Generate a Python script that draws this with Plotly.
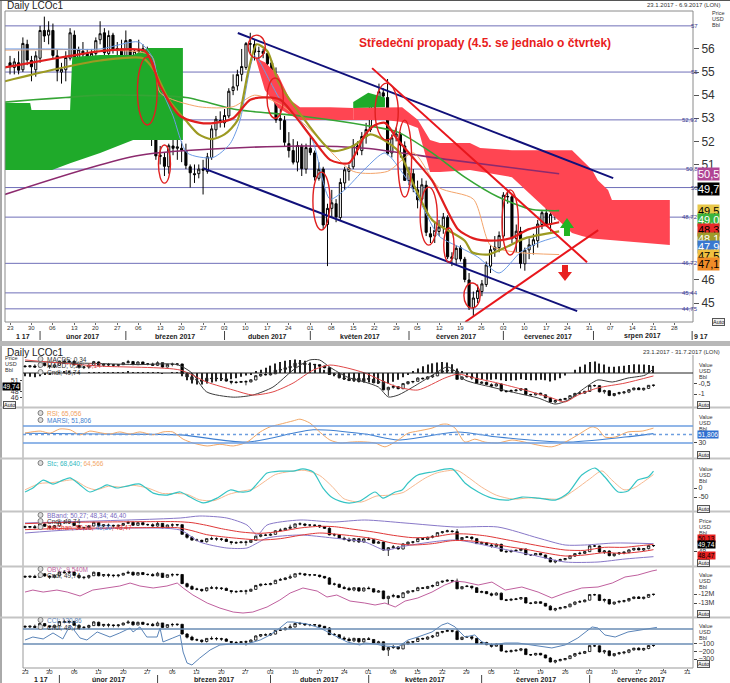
import plotly.graph_objects as go

W, H = 730, 683
FONT = "Liberation Sans, Arial, sans-serif"

# ---------------- price data: LCOc1 daily, trading-day index 0 = 23.1.2017 ----------------
open_ = [55.4,55.2,55.4,55.1,56.2, 55.5,55.1,55.6,56.8,56.6, 56.8,55.7,55.0,55.1,55.6,
         56.6,55.6,55.9,55.8,55.6, 55.8,56.4,56.7,55.8,56.6, 56.0,56.0,55.6,56.4,55.1,
         55.9,55.9,56.0,53.1,52.2, 51.4,51.3,50.9,51.8,51.7, 51.7,51.6,50.9,50.6,50.6,
         50.8,50.7,51.3,52.5,52.9, 52.8,53.1,54.2,54.4,54.9, 55.2,56.2,56.2,55.9,55.9,
         55.8,55.4,54.9,52.9,52.9, 51.9,51.6,51.1,51.8,50.8, 51.7,51.5,50.4,50.8,48.4,
         49.1,49.3,48.7,50.2,50.7, 50.9,51.8,51.6,52.2,52.5, 53.6,53.9,54.1,53.9,51.5,
         52.2,52.3,51.8,50.3,50.6, 49.9,49.5,50.1,48.0,47.9, 48.1,48.3,48.7,47.0,46.9,
         47.4,46.9,46.0,44.8,45.2, 45.5,45.8,46.6,47.3,47.4, 47.9,49.6,49.6,47.8,48.1,
         46.7,47.3,47.5,47.7,48.4, 48.9,48.4,48.8,49.7]
high_ = [55.7,55.6,55.9,56.5,56.4, 55.7,55.9,57.0,57.4,57.2, 57.1,56.0,55.4,55.9,56.9,
         56.8,56.1,56.3,56.0,56.0, 56.5,57.2,56.9,56.8,56.7, 56.3,56.4,56.8,56.4,56.0,
         56.4,56.2,56.1,53.4,52.6, 51.8,51.5,51.9,52.4,52.2, 52.0,51.9,51.0,51.0,51.0,
         51.2,51.5,52.7,53.1,53.3, 53.4,54.3,54.9,55.1,56.0, 56.3,56.7,56.4,56.1,56.0,
         55.9,55.5,55.2,53.4,53.1, 52.4,52.1,52.0,51.9,51.9, 52.2,51.6,51.1,50.9,49.3,
         49.9,49.5,50.4,50.9,51.0, 52.1,52.0,52.4,52.8,53.7, 54.0,54.5,54.3,54.7,52.3,
         52.6,52.4,52.0,50.9,50.8, 50.3,50.4,50.3,48.3,48.5, 48.6,48.9,48.8,47.2,47.5,
         47.5,47.0,46.3,45.5,45.8, 46.0,46.8,47.5,47.9,48.1, 49.8,49.9,49.7,48.4,48.3,
         47.4,47.8,48.0,48.6,49.0, 49.2,49.0,49.8,49.9]
low_ = [54.9,54.9,54.9,55.0,55.3, 54.6,54.8,55.4,56.3,56.2, 55.6,54.6,54.5,54.6,55.5,
        55.4,55.2,55.1,55.1,55.1, 55.7,56.2,55.6,55.7,55.8, 55.6,55.4,55.4,54.9,55.0,
        55.3,55.5,53.0,51.8,51.2, 51.0,50.5,50.6,51.4,51.2, 51.1,50.8,50.0,50.2,50.4,
        49.7,50.6,51.2,52.2,52.6, 52.6,53.0,54.0,54.2,54.6, 55.1,55.8,55.5,55.4,55.6,
        55.0,54.7,52.8,52.5,51.8, 51.3,51.0,50.7,50.5,50.6, 51.4,50.3,50.3,48.2,46.6,
        48.7,48.5,48.6,49.9,50.3, 50.8,51.4,51.4,51.9,52.4, 53.3,53.7,53.6,51.4,51.3,
        52.0,51.3,50.3,50.1,49.8, 49.1,49.4,47.9,47.6,47.6, 47.9,48.0,46.9,46.6,46.7,
        46.8,45.9,44.7,44.4,45.0, 45.3,45.7,46.3,47.0,47.2, 47.8,49.3,47.6,47.2,46.5,
        46.4,46.9,47.1,47.4,48.2, 48.3,48.1,48.6,49.3]
close_ = [55.23,55.44,55.08,56.24,55.52, 55.23,55.70,56.80,56.56,56.81, 55.72,55.05,55.12,55.63,56.70,
          55.59,55.97,55.75,55.65,55.81, 56.36,56.66,55.84,56.58,55.99, 56.01,55.59,56.36,55.08,55.90,
          55.92,56.01,53.11,52.19,51.37, 51.35,50.92,51.81,51.70,51.76, 51.62,50.96,50.64,50.56,50.80,
          50.75,51.33,52.54,52.96,52.83, 53.12,54.17,54.36,54.89,55.24, 56.23,56.23,55.86,55.89,55.80,
          55.36,54.89,52.93,52.99,51.96, 51.60,51.10,51.82,50.82,51.73, 51.52,50.46,50.79,48.38,49.10,
          49.34,48.73,50.22,50.77,50.84, 51.82,51.65,52.21,52.51,53.61, 53.87,54.15,53.96,51.46,52.15,
          52.32,51.84,50.31,50.63,49.95, 49.47,50.12,48.06,47.86,48.15, 48.29,48.72,47.00,46.92,47.37,
          46.91,46.02,44.82,45.22,45.54, 45.83,46.65,47.31,47.42,47.92, 49.67,49.61,47.79,48.11,46.71,
          47.29,47.52,47.74,48.42,48.91, 48.42,48.84,49.70,49.74]
day_idx = list(range(len(close_)))

# ---------------- axis labels ----------------
week_labels = ["23","30","06","13","20","27","06","13","20","27","03","10","17","24","01","08",
               "15","22","29","05","12","19","26","03","10","17","24","31","07","14","21","28","04"]
week_idx = [5 * k for k in range(len(week_labels))]
month_names = ["1 17","únor 2017","březen 2017","duben 2017","květen 2017","červen 2017",
               "červenec 2017","srpen 2017","9 17"]
month_start = [None, 7, 27, 50, 70, 93, 115, 136, 159]

# ---------------- top panel: ichimoku cloud (index, upper, lower) ----------------
green1_x = [-1.2, 4.7, 5.0, 9.8, 14.0, 14.5, 21, 28.7, 32.2, 40.3]
green1_hi = [53.66, 53.66, 53.36, 53.36, 53.36, 55.65, 55.74, 55.74, 56.04, 56.04]
green1_lo = [50.76, 50.76, 50.76, 50.76, 51.05, 51.1, 51.5, 52.06, 52.06, 52.06]
red1_x = [57.3, 59.4, 62.5, 65.3, 67.6, 74.6, 80.0]
red1_hi = [55.61, 55.43, 54.87, 53.79, 53.48, 53.48, 53.44]
red1_lo = [55.55, 54.22, 53.44, 53.14, 52.92, 52.92, 52.92]
green2_x = [80.0, 83.5, 87.4]
green2_hi = [53.7, 54.1, 53.9]
green2_lo = [53.44, 53.45, 53.48]
red2_x = [80.0, 87.4, 91.4, 95.1, 97.9, 100.2, 107.2, 109.6, 117, 131, 133.3, 135.7, 137, 139.4, 140.3, 153.8]
red2_hi = [53.44, 53.48, 53.48, 52.92, 52.06, 51.93, 51.93, 51.71, 51.62, 51.62, 51.19, 50.76, 50.32, 49.89, 49.46, 49.46]
red2_lo = [52.92, 52.92, 52.84, 52.58, 50.67, 50.67, 50.76, 50.67, 50.45, 48.03, 47.9, 47.8, 47.77, 47.75, 47.73, 47.51]

# ---------------- top panel: indicator lines (index, price) ----------------
red_ma_x = [-1.2, 4.7, 14, 21, 31.5, 35, 39.6, 44.3, 47.8, 52, 56, 60, 63, 66, 70.6, 74.6, 79, 82.8, 85, 87.4, 90.4, 94.4, 98.4, 104.4, 108, 112, 116.6, 121, 128]
red_ma_y = [55.2, 55.4, 55.7, 55.9, 55.9, 54.4, 53.1, 52.8, 52.8, 53.0, 53.8, 53.9, 53.8, 53.2, 52.1, 51.2, 51.06, 52.3, 52.7, 52.8, 52.06, 51.2, 50.3, 48.2, 47.8, 47.7, 47.8, 48.2, 48.5]
olive_x = [-1.2, 10, 21, 31, 33.5, 37, 41, 44, 47, 50, 53, 55.5, 57.5, 60, 62.5, 67.6, 75, 80, 84, 90.4, 94.4, 98.4, 106, 107.7, 111.4, 115.4, 120, 128]
olive_y = [54.6, 55.1, 55.5, 55.6, 55.1, 53.8, 52.9, 52.3, 52.1, 52.3, 52.9, 55.0, 56.2, 55.9, 54.6, 53.2, 51.6, 51.8, 52.3, 51.6, 50.0, 48.6, 47.7, 47.2, 47.1, 47.4, 47.8, 48.1]
blue_x = [-1.2, 10, 21, 30, 33, 35, 38, 41.3, 47.3, 51.3, 53.6, 57, 60.6, 63, 67.6, 70.6, 74.6, 78, 82.7, 87.4, 92, 95, 100, 105, 109, 114, 119, 123, 128]
blue_y = [56.0, 56.0, 56.0, 56.3, 55.7, 54.4, 53.1, 51.5, 51.3, 51.9, 52.9, 55.7, 54.6, 53.8, 52.9, 52.0, 49.5, 49.9, 50.8, 51.5, 50.5, 49.6, 47.9, 47.4, 47.0, 46.3, 47.2, 47.6, 47.9]
orange_x = [-1.2, 21, 33, 35, 44, 52, 57, 63, 70, 80, 88, 94, 100, 108, 112, 118, 128]
orange_y = [55.95, 55.95, 55.7, 54.1, 53.5, 53.5, 54.0, 53.6, 52.5, 50.7, 50.7, 51.5, 50.0, 49.5, 47.5, 47.2, 47.1]
green_ma_x = [-1.2, 5.4, 13, 21, 41, 52, 56, 67.6, 82.7, 90.4, 98.4, 106, 113.7, 121.7, 128]
green_ma_y = [53.7, 53.8, 53.9, 54.0, 53.9, 53.4, 53.3, 53.1, 52.7, 52.4, 51.5, 50.45, 49.6, 49.05, 49.0]
purple_x = [-1.2, 30.3, 67.6, 82.8, 102.6, 128]
purple_y = [49.7, 51.4, 51.8, 51.7, 51.2, 50.6]

levels = [57, 55, 52.93, 50.8, 50, 48.72, 46.72, 45.44, 44.75]
level_text = ["57", "55", "52,93", "50,8", "50", "48,72", "46,72", "45,44", "44,75"]

# trend lines (index, price)
chan_up = ([53.1, 140.6], [56.69, 50.41])
chan_lo = ([45.0, 132.2], [50.84, 44.65])
red_dn = ([84.4, 134.5], [55.17, 46.77])
red_upl = ([106.1, 137.1], [44.18, 48.16])

# Wednesday drop ellipses: centre index, top price, bottom price, half width (days)
ell_idx = [32, 36, 57.5, 61.8, 72.6, 87.8, 92, 97.6, 102.3, 107.7, 116.6]
ell_top = [55.65, 51.84, 56.6, 54.74, 50.67, 54.52, 52.92, 50.02, 48.25, 45.87, 49.9]
ell_bot = [52.71, 50.19, 55.6, 53.0, 48.16, 52.06, 49.59, 47.51, 46.77, 44.78, 47.08]
ell_hw = [2.3, 1.4, 2.0, 1.9, 2.0, 2.7, 1.6, 2.0, 1.2, 1.9, 1.9]

box_text = ["50,5", "49,7", "49,5", "49,0", "48,3", "48,1", "47,9", "47,5", "47,1"]
box_bg = ['#b04494', '#000000', '#e8c84a', '#3cb43c', '#e82828', '#a09a28', '#3a78d0', '#f0c040', '#f08c28']
box_fg = ['white', 'white', 'black', 'white', 'black', 'white', 'white', 'black', 'black']

# ---------------- lower panels ----------------
macd_x = [0, 7, 15, 23, 31, 34, 37, 42.4, 46.4, 50.5, 54.6, 58, 60, 62, 65.6, 69.2, 72, 74, 76, 79, 83, 86, 87.6, 89.6, 95, 100, 104.5, 108, 110.6, 114, 116.7, 119.6, 122.8, 126.3, 128]
macd_y = [0.55, 0.5, 0.45, 0.4, 0.4, 0.0, -0.9, -1.15, -1.05, -0.67, 0.14, 0.62, 0.62, 0.29, -0.19, -0.43, -0.67, -1.14, -1.05, -0.67, -0.1, 0.29, 0.1, -0.33, -0.67, -0.95, -1.19, -1.48, -1.29, -0.71, -0.33, -0.43, -0.24, -0.1, 0.2]
sig_x = [0, 15, 31.6, 37, 42.4, 46.4, 50.5, 54.6, 58.7, 62.1, 65.6, 69.2, 73.3, 76, 80, 85.5, 88.2, 91.6, 96.3, 101.8, 107.3, 110, 112.6, 116.7, 122.2, 128]
sig_y = [0.62, 0.33, 0.14, -0.43, -0.81, -1.05, -0.9, -0.48, 0.14, 0.38, 0.24, 0.0, -0.43, -0.67, -0.81, -0.24, -0.05, -0.24, -0.48, -0.81, -1.19, -1.38, -1.05, -0.71, -0.48, -0.14]
macd_hist = [-0.15,-0.18,-0.2,-0.15,-0.1,-0.05,0.0,0.03,0.05,0.05,
             0.04,0.02,0.0,0.02,0.04,0.03,0.02,0.02,0.01,0.02,
             0.03,0.05,0.03,0.04,0.02,0.02,0.01,0.02,-0.01,0.0,
             0.01,0.01,-0.15,-0.35,-0.5,-0.55,-0.55,-0.5,-0.45,-0.4,
             -0.38,-0.35,-0.3,-0.25,-0.18,-0.12,-0.05,0.05,0.15,0.25,
             0.35,0.45,0.52,0.58,0.62,0.64,0.62,0.58,0.5,0.4,
             0.28,0.15,-0.05,-0.15,-0.25,-0.32,-0.36,-0.4,-0.42,-0.45,
             -0.45,-0.48,-0.52,-0.55,-0.5,-0.42,-0.32,-0.2,-0.05,0.1,
             0.22,0.32,0.4,0.46,0.5,0.52,0.5,0.42,0.2,0.05,
             -0.08,-0.15,-0.25,-0.3,-0.32,-0.32,-0.3,-0.35,-0.38,-0.36,
             -0.34,-0.3,-0.33,-0.35,-0.34,-0.32,-0.35,-0.4,-0.35,-0.25,
             -0.12,0.0,0.15,0.3,0.4,0.52,0.55,0.45,0.4,0.3,
             0.3,0.32,0.35,0.38,0.42,0.4,0.4,0.38,0.34]

rsi_x = [0, 3.1, 5.1, 7.1, 9.2, 11.2, 13.2, 15.3, 17.3, 19.3, 21.4, 23.4, 26.1, 28.1, 30.1, 32.2, 34.2, 37.1, 39.7, 42.4, 45.2, 47.9, 49.9, 51.9, 54.6, 56, 58, 60.1, 62.1, 64.2, 66.2, 68.2, 71.3, 73.3, 76, 78, 80, 82.9, 84.9, 86.1, 87.6, 89.6, 91.6, 93.7, 96.3, 99.2, 101.8, 104.5, 107.3, 110, 112.6, 115.5, 116.7, 118.1, 120.2, 122.8, 125.7, 128]
rsi_y = [53.5, 58, 53, 63, 61, 49, 58, 54, 51, 56, 51, 56, 49, 56, 56, 39, 30, 23, 27, 23, 32, 56, 68, 74, 82, 86, 77, 55, 37, 30, 32, 33, 30, 21, 37, 53, 58, 65, 74, 74, 65, 32, 39, 32, 30, 37, 32, 25, 21, 32, 49, 68, 63, 44, 44, 56, 58, 65]
marsi_x = [0, 15.3, 31.6, 45.2, 58.7, 69.2, 76, 88.2, 96.3, 110, 122.2, 128]
marsi_y = [53, 51, 49, 32, 61, 51, 37, 56, 44, 32, 44, 52]

stk_x = [0, 1.6, 3.7, 5.7, 7.7, 9.2, 11.2, 13.2, 15.3, 16.7, 18.7, 20.8, 23.4, 26.1, 28.9, 31.6, 33.6, 36.3, 39.1, 41.8, 43.8, 45.8, 47.9, 49.3, 51.9, 54.6, 56.6, 58.7, 60.7, 62.7, 65.6, 68.2, 71.3, 72.9, 75.4, 76.8, 78, 80, 82.9, 87, 89.6, 92.3, 95.1, 98.4, 101.2, 104.5, 108, 110.6, 113.4, 116.1, 118.1, 120.8, 122.8, 124.8, 126.9, 128]
stk_y = [-22, 0, 44, 22, 44, 56, 17, -22, 0, 17, 0, 11, 22, -28, -39, -22, -50, -83, -56, -11, -22, -17, 44, 83, 94, 94, 106, 89, 0, -56, -83, -72, -22, -56, -22, -11, 28, 72, 89, 106, 28, -22, -56, -67, -50, -56, -67, -28, 72, 111, 61, -22, -17, 44, 61, 94]
std_x = [0, 3, 5.5, 8, 10, 12.5, 14.5, 17, 19.5, 22, 25, 28, 30.5, 33, 35.5, 38.5, 41.5, 44, 46.5, 49, 51, 54, 57, 60, 62.5, 65, 68.5, 71.5, 74, 77, 79, 81.5, 84, 88, 90.5, 93, 96, 99.5, 102.5, 105.5, 109, 112, 115, 117.5, 119.5, 122, 124, 126, 128]
std_y = [-10, 25, 30, 40, 45, 5, -10, 10, 5, 15, 0, -30, -30, -35, -65, -70, -35, -18, -5, 40, 75, 92, 98, 70, 10, -60, -78, -45, -40, -25, 10, 55, 85, 98, 55, 5, -40, -62, -55, -58, -60, -10, 50, 95, 45, -10, 0, 35, 75]

bbu_x = [0, 31.6, 35.6, 41.1, 45.2, 47.3, 49.3, 56, 62.7, 69.2, 77.4, 87.6, 96.3, 104.5, 110, 114, 120.2, 128]
bbu_y = [56.5, 58.0, 58.6, 58.0, 55.9, 52.9, 55.9, 57.4, 56.8, 57.4, 56.5, 55.3, 55.3, 52.0, 49.9, 49.9, 50.5, 50.3]
bbl_x = [0, 8.7, 22, 31.6, 35.6, 41.1, 45.2, 47.3, 49.3, 56, 62.7, 69.2, 73.3, 77.4, 87.6, 96.3, 103.3, 110, 116.7, 122.2, 128]
bbl_y = [53.5, 54.4, 55.0, 54.4, 50.8, 49.0, 49.0, 50.5, 52.0, 52.9, 52.0, 50.8, 48.4, 49.6, 51.4, 49.0, 46.9, 44.8, 44.8, 45.7, 46.4]
kel_x = [0, 8, 16, 24, 31, 34, 37, 40, 44, 48, 52, 56, 60, 63, 67, 71, 75, 79, 83, 87, 90, 94, 98, 102, 106, 110, 114, 118, 122, 126, 128]
kel_up = [56.3, 56.7, 56.8, 56.9, 56.9, 56.6, 55.8, 54.8, 53.8, 53.4, 54.0, 55.0, 55.5, 55.4, 54.6, 53.8, 52.8, 52.1, 52.3, 53.2, 53.2, 52.6, 51.5, 50.4, 49.3, 48.4, 48.3, 49.2, 49.2, 49.8, 50.1]
kel_lo = [54.5, 54.9, 55.0, 55.1, 55.1, 54.2, 53.0, 52.4, 51.8, 51.4, 51.8, 52.8, 53.5, 53.2, 52.6, 51.8, 50.4, 49.9, 50.3, 51.2, 51.2, 50.6, 49.5, 48.6, 47.5, 46.6, 46.9, 47.6, 47.4, 48.0, 48.5]

obv_x = [0, 1.6, 3.7, 6.5, 8.6, 11.2, 13.8, 16.7, 19.3, 21.4, 23.4, 26.1, 28.9, 31, 32.2, 34.2, 37.1, 39.7, 42.4, 44.4, 46.4, 49.3, 51.9, 54, 56.6, 59.5, 61.5, 63.5, 66.2, 69.2, 71.3, 73.3, 75.4, 77.4, 80, 82.9, 85.5, 87.6, 89.6, 92.3, 95.1, 97.8, 101.2, 104.5, 107.3, 110, 113.4, 116.7, 119.6, 122.2, 124.8, 127.7, 128.7]
obv_y = [-11.78, -11.56, -11.78, -11.56, -11.78, -12.22, -11.56, -11.33, -11.11, -10.78, -11.11, -11.33, -11.11, -10.78, -11.33, -12.11, -13.0, -13.56, -14.0, -14.11, -14.0, -13.44, -12.67, -11.89, -11.33, -11.67, -12.33, -12.11, -12.78, -13.0, -13.22, -13.0, -13.44, -12.78, -12.44, -11.78, -11.0, -10.56, -10.67, -11.0, -10.67, -11.56, -11.22, -11.78, -12.44, -11.89, -11.33, -11.22, -10.78, -10.11, -9.89, -9.44, -9.33]

cci_x = [0, 1.6, 3.7, 5.7, 7.7, 9.2, 11.2, 12.6, 14.7, 17.3, 19.3, 21.4, 22, 23.4, 24.8, 26.9, 27.5, 28.1, 30.1, 31.6, 32.2, 33, 34, 35.6, 37.7, 39.7, 42.4, 45.2, 47.9, 49.9, 51.9, 53.4, 54.6, 57.4, 60.1, 62.7, 65.6, 68.2, 69.2, 71.3, 73.3, 76, 78, 80, 82.9, 84.9, 86.1, 87.6, 89.6, 91.6, 93.1, 95.1, 97.8, 100.4, 103.3, 107.3, 110, 112.6, 115.5, 116.7, 118.1, 120.2, 122.8, 125.7, 127.7, 128.7]
cci_y = [-47, -7, -33, 47, -33, 153, -20, -47, 60, -7, 47, 113, 60, 127, -7, -7, 113, -73, -20, 20, -207, -353, -380, -287, -180, -113, -100, -100, -47, 20, 113, 193, 193, 167, 113, 20, -73, -113, -87, -100, -127, -140, -47, -7, 60, 153, 180, 127, -7, 20, -73, -113, -87, -87, -113, -153, -113, -20, 127, 113, 20, -7, 60, 87, 113, 121]

# ---------------- figure ----------------
fig = go.Figure()


def px(x):
    return x / W


def py(y):
    return 1 - y / H


def line(xs, ys, color, width, xa='x', ya='y', dash=None, spline=True):
    ln = dict(color=color, width=width)
    if dash:
        ln['dash'] = dash
    if spline:
        ln['shape'] = 'spline'
        ln['smoothing'] = 0.7
    fig.add_trace(go.Scatter(x=xs, y=ys, mode='lines', line=ln, hoverinfo='skip',
                             showlegend=False, xaxis=xa, yaxis=ya))


def band(xs, hi, lo, color):
    fig.add_trace(go.Scatter(x=xs + xs[::-1], y=hi + lo[::-1], fill='toself', fillcolor=color,
                             line=dict(width=0), mode='lines', hoverinfo='skip', showlegend=False,
                             xaxis='x', yaxis='y'))


def candles(xa, ya, lw=1.0):
    fig.add_trace(go.Candlestick(x=day_idx, open=open_, high=high_, low=low_, close=close_,
                                 increasing=dict(line=dict(color='black', width=lw), fillcolor='white'),
                                 decreasing=dict(line=dict(color='black', width=lw), fillcolor='black'),
                                 whiskerwidth=0, hoverinfo='skip', showlegend=False, xaxis=xa, yaxis=ya))


# cloud
GREEN = '#1faa2a'
RED = '#ff4552'
band(green1_x, green1_hi, green1_lo, GREEN)
band(red1_x, red1_hi, red1_lo, RED)
band(green2_x, green2_hi, green2_lo, GREEN)
band(red2_x, red2_hi, red2_lo, RED)

# lines behind candles
line(purple_x, purple_y, '#8c2a6e', 1.6)
line(green_ma_x, green_ma_y, '#35a535', 1.6)
line(orange_x, orange_y, '#f4a46a', 1.0)
line(blue_x, blue_y, '#6c9ce6', 1.0)

candles('x', 'y')

line(olive_x, olive_y, '#9c9a22', 2.2)
line(red_ma_x, red_ma_y, '#e01e1e', 2.2)

# trend lines
for (xs, ys), col in [(chan_up, '#10107a'), (chan_lo, '#10107a'), (red_dn, '#e8161c'), (red_upl, '#e8161c')]:
    line(xs, ys, col, 2, spline=False)

shapes = []
annotations = []

# level lines
for lv, tx in zip(levels, level_text):
    shapes.append(dict(type='line', xref='paper', yref='y', x0=px(5), x1=px(693), y0=lv, y1=lv,
                       line=dict(color='#6f6fb8', width=1), layer='below'))
    annotations.append(dict(xref='paper', yref='y', x=px(700), y=lv, xanchor='right', yanchor='middle',
                            text=tx, showarrow=False, font=dict(size=6, color='#3a3a90', family=FONT)))

# ellipses
for c, t, b, hw in zip(ell_idx, ell_top, ell_bot, ell_hw):
    shapes.append(dict(type='circle', xref='x', yref='y', x0=c - hw, x1=c + hw, y0=b, y1=t,
                       line=dict(color='#e02020', width=1.4)))

# arrows (pixel geometry)
def path(pts):
    return 'M ' + ' L '.join(f'{px(a):.5f},{py(b):.5f}' for a, b in pts) + ' Z'

shapes.append(dict(type='path', xref='paper', yref='paper',
                   path=path([(564, 236), (570, 236), (570, 228), (574, 228), (567, 218), (560, 228), (564, 228)]),
                   fillcolor='#22b422', line=dict(width=0)))
shapes.append(dict(type='path', xref='paper', yref='paper',
                   path=path([(562, 265), (568, 265), (568, 272), (572, 272), (565, 281), (558, 272), (562, 272)]),
                   fillcolor='#e82020', line=dict(width=0)))

annotations.append(dict(xref='paper', yref='paper', x=px(357), y=py(43), xanchor='left', yanchor='middle',
                        text='<b>Středeční propady (4.5. se jednalo o čtvrtek)</b>', showarrow=False,
                        font=dict(size=12, color='#e8201c', family=FONT)))

# right label boxes of the top panel
box_y = [174, 189, 211, 220, 230, 239, 247, 256, 264]
for t, bg, fg, yy in zip(box_text, box_bg, box_fg, box_y):
    annotations.append(dict(xref='paper', yref='paper', x=px(697), y=py(yy), xanchor='left', yanchor='middle',
                            text=t, showarrow=False, bgcolor=bg, borderpad=0,
                            font=dict(size=11, color=fg, family=FONT)))

# titles
annotations += [
    dict(xref='paper', yref='paper', x=px(5), y=py(6), xanchor='left', yanchor='middle', text='Daily LCOc1',
         showarrow=False, font=dict(size=10, color='#222', family=FONT)),
    dict(xref='paper', yref='paper', x=px(722), y=py(5), xanchor='right', yanchor='middle',
         text='23.1.2017 - 6.9.2017 (LON)', showarrow=False, font=dict(size=6, color='#333', family=FONT)),
    dict(xref='paper', yref='paper', x=px(5), y=py(352), xanchor='left', yanchor='middle', text='Daily LCOc1',
         showarrow=False, font=dict(size=10, color='#222', family=FONT)),
    dict(xref='paper', yref='paper', x=px(722), y=py(352), xanchor='right', yanchor='middle',
         text='23.1.2017 - 31.7.2017 (LON)', showarrow=False, font=dict(size=6, color='#333', family=FONT)),
]
for k, t in enumerate(['Price', 'USD', 'Bbl']):
    annotations.append(dict(xref='paper', yref='paper', x=px(710), y=py(13 + 6 * k), xanchor='left',
                            yanchor='middle', text=t, showarrow=False, font=dict(size=5.5, color='#333', family=FONT)))

# day labels (both x axes) as text rows
for wi, wl in zip(week_idx, week_labels):
    annotations.append(dict(xref='x', yref='paper', x=wi, y=py(328), xanchor='center', yanchor='middle',
                            text=wl, showarrow=False, font=dict(size=6, color='#333', family=FONT)))
for wi, wl in zip(week_idx[:28], week_labels[:28]):
    annotations.append(dict(xref='x2', yref='paper', x=wi, y=py(672), xanchor='center', yanchor='middle',
                            text=wl, showarrow=False, font=dict(size=6, color='#333', family=FONT)))

# month labels, top
top_end = 159.2
bounds = [-1.17] + month_start[1:] + [top_end]
for k, name in enumerate(month_names):
    if k == len(month_names) - 1:
        annotations.append(dict(xref='x', yref='paper', x=month_start[k], y=py(336), xanchor='left',
                                yanchor='middle', text=f'<b>{name}</b>', showarrow=False,
                                font=dict(size=7, color='#222', family=FONT)))
    else:
        cx = (bounds[k] + bounds[k + 1]) / 2
        annotations.append(dict(xref='x', yref='paper', x=cx, y=py(336), xanchor='center', yanchor='middle',
                                text=f'<b>{name}</b>', showarrow=False, font=dict(size=7, color='#222', family=FONT)))
for ms in month_start[1:]:
    shapes.append(dict(type='line', xref='x', yref='paper', x0=ms, x1=ms, y0=py(331), y1=py(340),
                       line=dict(color='#444', width=1)))

# month labels, bottom
low_end = 136.05
lb = [-0.41] + month_start[1:7] + [low_end]
for k in range(7):
    cx = (lb[k] + lb[k + 1]) / 2
    annotations.append(dict(xref='x2', yref='paper', x=cx, y=py(679.5), xanchor='center', yanchor='middle',
                            text=f'<b>{month_names[k]}</b>', showarrow=False, font=dict(size=7, color='#222', family=FONT)))
for ms in month_start[1:7]:
    shapes.append(dict(type='line', xref='x2', yref='paper', x0=ms, x1=ms, y0=py(675), y1=py(683),
                       line=dict(color='#444', width=1)))

# frames
shapes += [
    dict(type='rect', xref='paper', yref='paper', x0=px(5), x1=px(693), y0=py(322), y1=py(11),
         line=dict(color='#8a8a8a', width=1)),
    dict(type='line', xref='paper', yref='paper', x0=0, x1=1, y0=py(0.5), y1=py(0.5), line=dict(color='#555', width=1)),
    dict(type='line', xref='paper', yref='paper', x0=px(1), x1=px(1), y0=py(0), y1=py(683), line=dict(color='#555', width=1)),
    dict(type='rect', xref='paper', yref='paper', x0=0, x1=1, y0=py(346), y1=py(341), fillcolor='#b8b8b8',
         line=dict(width=0)),
    dict(type='line', xref='paper', yref='paper', x0=px(23), x1=px(23), y0=py(355), y1=py(668),
         line=dict(color='#999', width=1)),
    dict(type='line', xref='paper', yref='paper', x0=px(693), x1=px(693), y0=py(355), y1=py(668),
         line=dict(color='#999', width=1)),
    dict(type='line', xref='paper', yref='paper', x0=px(23), x1=px(693), y0=py(668), y1=py(668),
         line=dict(color='#999', width=1)),
]
for sy in [407.5, 458.5, 511.5, 566.5, 617.5]:
    shapes.append(dict(type='line', xref='paper', yref='paper', x0=0, x1=1, y0=py(sy), y1=py(sy),
                       line=dict(color='#c4c4c4', width=2)))

# ---------------- lower panels ----------------
# P1: candles + MACD
fig.add_trace(go.Bar(x=day_idx, y=macd_hist, width=0.22, marker=dict(color='#222', line=dict(width=0)),
                     hoverinfo='skip', showlegend=False, xaxis='x2', yaxis='y3'))
candles('x2', 'y2', 0.8)
line(macd_x, macd_y, '#3c3c3c', 1.0, 'x2', 'y3')
line(sig_x, sig_y, '#e04848', 1.0, 'x2', 'y3')
shapes.append(dict(type='line', xref='paper', yref='y3', x0=px(23), x1=px(693), y0=0, y1=0,
                   line=dict(color='#222', width=1)))

# P2: RSI
for lv, dsh in [(70, 'solid'), (30, 'solid'), (50, 'dot')]:
    shapes.append(dict(type='line', xref='paper', yref='y4', x0=px(23), x1=px(693), y0=lv, y1=lv,
                       line=dict(color='#6d9ee0', width=1.3, dash=dsh)))
line(marsi_x, marsi_y, '#3f7fd0', 1.1, 'x2', 'y4')
line(rsi_x, rsi_y, '#f2a868', 1.0, 'x2', 'y4')

# P3: stochastic
line(std_x, std_y, '#f7b990', 1.0, 'x2', 'y5')
line(stk_x, stk_y, '#35c4c4', 1.2, 'x2', 'y5')

# P4: bollinger + keltner
line(bbu_x, bbu_y, '#8878c8', 1.0, 'x2', 'y6')
line(bbl_x, bbl_y, '#8878c8', 1.0, 'x2', 'y6')
line(kel_x, kel_up, '#e03838', 1.0, 'x2', 'y6')
line(kel_x, kel_lo, '#e03838', 1.0, 'x2', 'y6')
candles('x2', 'y6', 0.8)

# P5: OBV
line(obv_x, obv_y, '#c0609e', 1.0, 'x2', 'y8', spline=False)
candles('x2', 'y7', 0.8)

# P6: CCI
for lv in [100, -100]:
    shapes.append(dict(type='line', xref='paper', yref='y10', x0=px(23), x1=px(693), y0=lv, y1=lv,
                       line=dict(color='#6a8cb4', width=1.3)))
line(cci_x, cci_y, '#5a84b8', 1.0, 'x2', 'y10', spline=False)
candles('x2', 'y9', 0.8)

# legends of lower panels
def small(x, y, text, color='#333', size=6.5):
    annotations.append(dict(xref='paper', yref='paper', x=px(x), y=py(y), xanchor='left', yanchor='middle',
                            text=text, showarrow=False, font=dict(size=size, color=color, family=FONT)))

small(45, 359, 'MACDF; 0,34')
small(45, 365, "MACD; 0,20; <span style='color:#e04848'>-0,14</span>")
small(45, 372, 'Cndl; 49,74')
small(45, 413, 'RSI; 65,056', '#f0a060')
small(45, 420, 'MARSI; 51,806', '#3f7fd0')
small(45, 463, "Stc; 68,640; <span style='color:#f2a868'>64,566</span>", '#30b8c0')
small(45, 515, 'BBand; 50,27; 48,34; 46,40', '#7a6ac0')
small(45, 521, 'Cndl; 49,74')
small(45, 527, "KelChan; 50,13; <span style='color:#3f7fd0'>49,30</span>; 48,47", '#e03030')
small(45, 569, 'OBV; -9,540M', '#c0609e')
small(45, 575, 'Cndl; 49,74')
small(45, 620, 'CCI; 120,86', '#5a84b8')
small(45, 627, 'Cndl; 49,74')
for yy in [359, 365, 372, 413, 420, 463, 515, 521, 527, 569, 575, 620, 627]:
    shapes.append(dict(type='circle', xref='paper', yref='paper', x0=px(38), x1=px(43), y0=py(yy + 2.5),
                       y1=py(yy - 2.5), line=dict(color='#666', width=0.8), fillcolor='#ddd'))

for top, words in [(365, ['Value', 'USD', 'Bbl']), (417, ['Value', 'USD', 'Bbl']), (469, ['Value', 'USD', 'Bbl']),
                   (521, ['Price', 'USD', 'Bbl']), (575, ['Value', 'USD', 'Bbl']), (626, ['Value', 'USD', 'Bbl'])]:
    for k, w in enumerate(words):
        small(697, top + 6 * k, w, '#333', 5.5)
for k, w in enumerate(['Price', 'USD', 'Bbl']):
    small(3, 358 + 6 * k, w, '#333', 5.5)

for (xx, yy) in [(712, 322), (697, 405), (697, 455), (697, 509), (697, 563), (697, 614), (697, 664), (3, 405)]:
    annotations.append(dict(xref='paper', yref='paper', x=px(xx), y=py(yy), xanchor='left', yanchor='middle',
                            text='Auto', showarrow=False, bgcolor='#f0f0f0', bordercolor='#555', borderwidth=1,
                            borderpad=0, font=dict(size=5.5, color='#222', family=FONT)))

low_boxes = [(697, 434, '51,806', '#2f6fd0', 'white'), (697, 538, '50,13', '#e82020', 'black'),
             (697, 544, '49,74', '#000000', 'white'), (697, 555, '48,47', '#e82020', 'black'),
             (2, 386, '49,74', '#000000', 'white')]
for xx, yy, t, bg, fg in low_boxes:
    annotations.append(dict(xref='paper', yref='paper', x=px(xx), y=py(yy), xanchor='left', yanchor='middle',
                            text=t, showarrow=False, bgcolor=bg, borderpad=0,
                            font=dict(size=6.5, color=fg, family=FONT)))

# ---------------- axes ----------------
def dom(top, bot):
    return [py(bot), py(top)]

ax_common = dict(showgrid=False, zeroline=False, fixedrange=True)
yr_font = dict(size=7, color='#333', family=FONT)

layout_axes = dict(
    xaxis=dict(domain=[px(5), px(693)], range=[-1.17, 159.2], anchor='y', tickvals=week_idx,
               showticklabels=False, ticks='outside', ticklen=2, tickcolor='#666',
               rangeslider=dict(visible=False), showline=False, **ax_common),
    yaxis=dict(domain=dom(12, 322), range=[44.18, 57.6], side='right', anchor='x',
               tickvals=[45, 46, 50, 51, 52, 53, 54, 55, 56], ticks='outside', ticklen=5, tickcolor='#555',
               tickfont=dict(size=12, color='#333', family=FONT), showline=False, **ax_common),
    xaxis2=dict(domain=[px(23), px(693)], range=[-0.41, 136.05], anchor='y9', tickvals=week_idx[:28],
                showticklabels=False, ticks='outside', ticklen=2, tickcolor='#666',
                rangeslider=dict(visible=False), showline=False, **ax_common),
    yaxis2=dict(domain=dom(355, 405), range=[43.9, 58.65], side='left', anchor='x2', tickvals=[51, 48, 46],
                ticks='outside', ticklen=2, tickfont=yr_font, **ax_common),
    yaxis3=dict(overlaying='y2', range=[-1.524, 0.857], side='right', anchor='x2', tickvals=[-0.5, -1],
                ticktext=['-0,5', '-1'], ticks='outside', ticklen=3, tickfont=yr_font, **ax_common),
    yaxis4=dict(domain=dom(410, 456), range=[-0.6, 107.6], side='right', anchor='x2', tickvals=[30],
                ticks='outside', ticklen=3, tickfont=yr_font, **ax_common),
    yaxis5=dict(domain=dom(461, 510), range=[-122, 150], side='right', anchor='x2', tickvals=[0, -50],
                ticktext=['0', '-50'], ticks='outside', ticklen=3, tickfont=yr_font, **ax_common),
    yaxis6=dict(domain=dom(513, 565), range=[43.9, 59.5], side='right', anchor='x2', tickvals=[48],
                ticks='outside', ticklen=3, tickfont=yr_font, **ax_common),
    yaxis7=dict(domain=dom(568, 616), range=[42.9, 58.04], side='left', anchor='x2', showticklabels=False,
                **ax_common),
    yaxis8=dict(overlaying='y7', range=[-14.44, -9.11], side='right', anchor='x2', tickvals=[-12, -13],
                ticktext=['-12M', '-13M'], ticks='outside', ticklen=3, tickfont=yr_font, **ax_common),
    yaxis9=dict(domain=dom(619, 668), range=[43.03, 57.57], side='left', anchor='x2', showticklabels=False,
                **ax_common),
    yaxis10=dict(overlaying='y9', range=[-420, 233], side='right', anchor='x2', tickvals=[-100, -200, -300],
                 ticks='outside', ticklen=3, tickfont=yr_font, **ax_common),
)

fig.update_layout(width=W, height=H, margin=dict(l=0, r=0, t=0, b=0), paper_bgcolor='white',
                  plot_bgcolor='white', showlegend=False, shapes=shapes, annotations=annotations,
                  font=dict(family=FONT), **layout_axes)

fig.write_html("out.html", config={'displayModeBar': False},
               post_script="document.body.style.margin='0';document.body.style.padding='0';")
